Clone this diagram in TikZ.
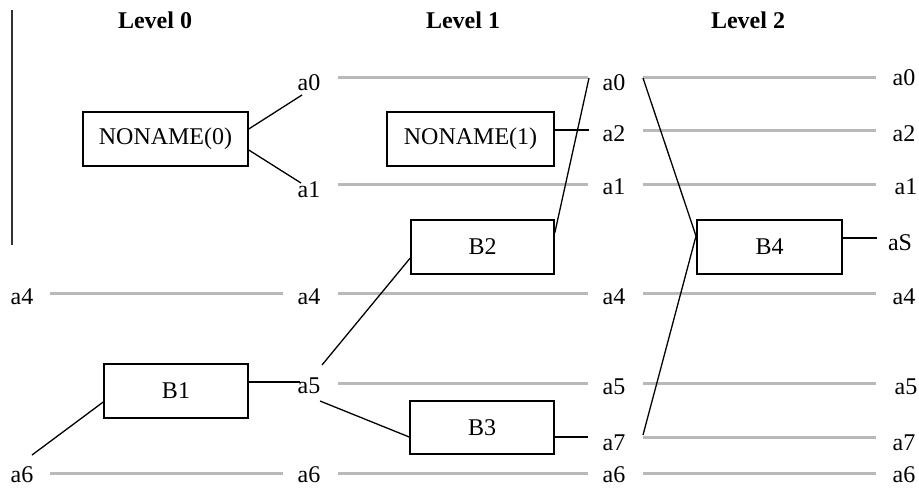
\documentclass[tikz,border=0pt]{standalone}
\usepackage{fontspec}
\setmainfont{Liberation Serif}
\definecolor{wiregray}{HTML}{B9B9B9}
\begin{document}
\begin{tikzpicture}[x=0.5pt,y=-0.5pt,
  font=\fontsize{12pt}{14pt}\selectfont,
  wire/.style={draw=wiregray, line width=1.5pt},
  conn/.style={draw=black, line width=0.65pt},
  blk/.style={draw=black, line width=0.75pt, inner sep=0pt, minimum height=27pt},
  lbl/.style={inner sep=0pt, anchor=center},
  ttl/.style={inner sep=0pt, anchor=center, font=\fontsize{12pt}{14pt}\selectfont\bfseries}]
\useasboundingbox (0,0) rectangle (919,487);
% frame line on the left
\coordinate (vtop) at (12,10);
\coordinate (vbot) at (12,245);
\draw[line width=0.6pt, black!80] (vtop) -- (vbot);
% titles
\node[ttl] (t0) at (155,20) {Level 0};
\node[ttl] (t1) at (463,20) {Level 1};
\node[ttl] (t2) at (748,20) {Level 2};
% boxes
\node[blk, minimum width=82.5pt] (n0) at (165.5,139) {NONAME(0)};
\node[blk, minimum width=83.5pt] (n1) at (470.5,139) {NONAME(1)};
\node[blk, minimum width=71.5pt] (b2) at (482.5,247) {B2};
\node[blk, minimum width=72.5pt] (b4) at (769.5,247) {B4};
\node[blk, minimum width=72pt] (b1) at (176,391) {B1};
\node[blk, minimum width=72pt, minimum height=26.5pt] (b3) at (482,427.5) {B3};
% wire end points
\foreach \n/\xa/\xb/\y in {L4/50/283/293, L6/50/283/473,
  Ma0/338/588/77, Ma1/338/588/184, Ma4/338/588/293, Ma5/338/588/383, Ma6/338/588/473,
  Ra0/643/876/77, Ra2/643/876/130, Ra1/643/876/184, Ra4/643/876/293, Ra5/643/876/383, Ra7/643/876/437, Ra6/643/876/473} {
  \coordinate (\n s) at (\xa,\y);
  \coordinate (\n e) at (\xb,\y);
  \draw[wire] (\n s) -- (\n e);
}
% labels
\node[lbl] (la4) at (22,297) {a4};
\node[lbl] (la6) at (22,475) {a6};
\node[lbl] (pa0) at (309,83) {a0};
\node[lbl] (pa1) at (309,190) {a1};
\node[lbl] (pa4) at (309,297) {a4};
\node[lbl] (pa5) at (309,386) {a5};
\node[lbl] (pa6) at (309,475) {a6};
\node[lbl] (qa0) at (614,83) {a0};
\node[lbl] (qa2) at (614,134) {a2};
\node[lbl] (qa1) at (614,187) {a1};
\node[lbl] (qa4) at (614,297) {a4};
\node[lbl] (qa5) at (614,387) {a5};
\node[lbl] (qa7) at (614,443) {a7};
\node[lbl] (qa6) at (614,475) {a6};
\node[lbl] (ra0) at (904,78) {a0};
\node[lbl] (ra2) at (904,134) {a2};
\node[lbl] (ra1) at (906,187) {a1};
\node[lbl] (raS) at (900,243) {aS};
\node[lbl] (ra4) at (904,297) {a4};
\node[lbl] (ra5) at (906,387) {a5};
\node[lbl] (ra7) at (904,443) {a7};
\node[lbl] (ra6) at (904,475) {a6};
% connector free ends
\coordinate (c0a) at (302,95);
\coordinate (c0b) at (301,183);
\coordinate (c1a) at (589,130);
\coordinate (c2a) at (589,78);
\coordinate (c4a) at (643,78);
\coordinate (c4b) at (643,435);
\coordinate (c4m) at (696,236);
\coordinate (c4s) at (877,238);
\coordinate (c1b) at (300,382);
\coordinate (c1c) at (32,455);
\coordinate (c5a) at (322,365);
\coordinate (c5b) at (320,401);
\coordinate (c3a) at (588,437);
% connectors
\draw[conn] ([yshift=5pt]n0.east) -- (c0a);
\draw[conn] ([yshift=-5.5pt]n0.east) -- (c0b);
\draw[conn] ([yshift=4.5pt]n1.east) -- (c1a);
\draw[conn] ([yshift=7pt]b2.east) -- (c2a);
\draw[conn] (c4a) -- (c4m) -- (c4b);
\draw[conn] ([yshift=4.5pt]b4.east) -- (c4s);
\draw[conn] ([yshift=4.5pt]b1.east) -- (c1b);
\draw[conn] ([yshift=-5.5pt]b1.west) -- (c1c);
\draw[conn] (c5a) -- ([yshift=-5.5pt]b2.west);
\draw[conn] (c5b) -- ([yshift=-4.75pt]b3.west);
\draw[conn] ([yshift=-4.75pt]b3.east) -- (c3a);
\end{tikzpicture}
\end{document}
